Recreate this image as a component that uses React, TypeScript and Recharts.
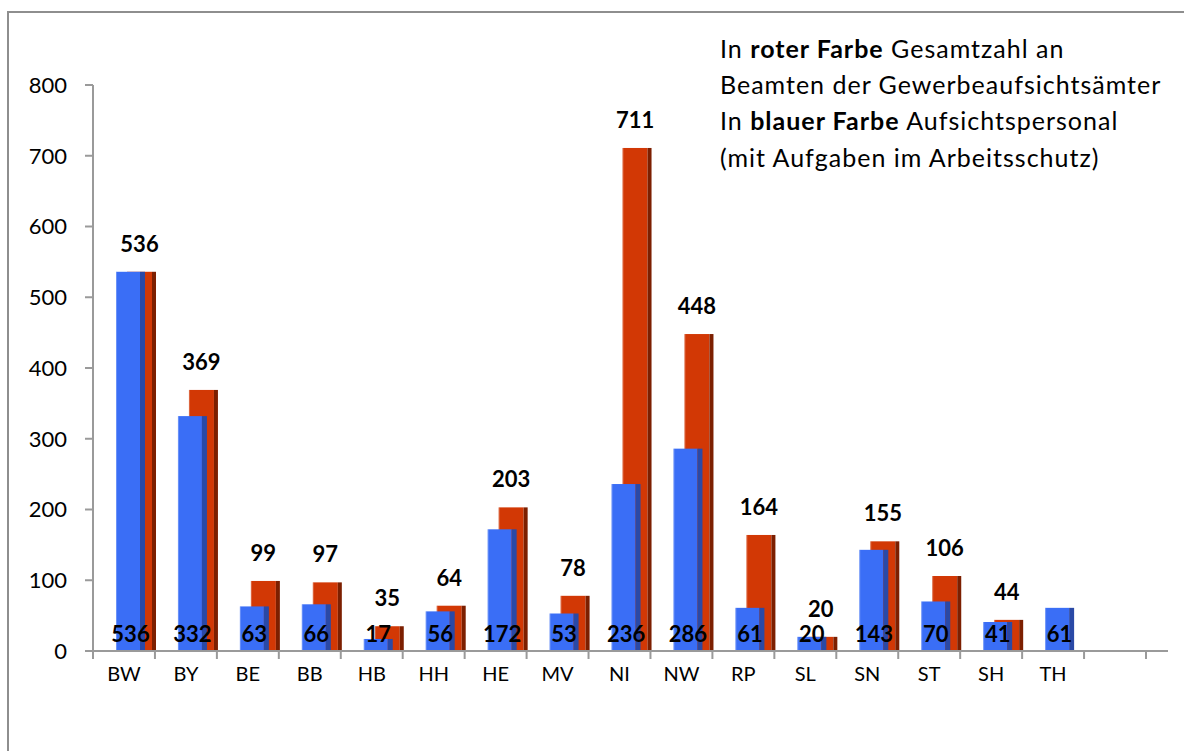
import React from "react";
import { BarChart, Bar, XAxis, YAxis, LabelList } from "recharts";

// Bundesländer (last slot is empty on the original axis)
const states = ["BW", "BY", "BE", "BB", "HB", "HH", "HE", "MV", "NI", "NW", "RP", "SL", "SN", "ST", "SH", "TH", ""];
// red: Gesamtzahl an Beamten der Gewerbeaufsichtsämter
const totalOfficials = [536, 369, 99, 97, 35, 64, 203, 78, 711, 448, 164, 20, 155, 106, 44, null, null];
// blue: Aufsichtspersonal mit Aufgaben im Arbeitsschutz
const inspectors = [536, 332, 63, 66, 17, 56, 172, 53, 236, 286, 61, 20, 143, 70, 41, 61, null];
const yTicks = [0, 100, 200, 300, 400, 500, 600, 700, 800];

const data = states.map((state, i) => ({
  state,
  total: totalOfficials[i],
  staff: inspectors[i],
}));

const FONT = "Lato, 'Open Sans', sans-serif";
const AXIS_GREY = "#9a9a9a";
const SHIFT = 12; // pushes the overlapped pair to the right of the slot
const BAND = (1146 - 93) / states.length;

const RED = "#d23805";
const RED_SIDE = "#7c1f00";
const BLUE = "#3a6ef6";
const BLUE_SIDE = "#2a49a6";

// flat "3D" column: front face + darker right side
const columnShape = (face: string, side: string, sideW: number) => (props: any) => {
  const { x, y, width, height } = props;
  if (height == null || height <= 0) return null;
  const bx = x + SHIFT;
  return (
    <g>
      <rect x={bx} y={y} width={width - sideW} height={height} fill={face} />
      <rect x={bx + width - sideW} y={y} width={sideW} height={height} fill={side} />
      <rect x={bx} y={y} width={1} height={height} fill="#ffffff" fillOpacity={0.25} />
    </g>
  );
};

const boxOf = (props: any) => {
  const vb = props.viewBox || {};
  return {
    x: vb.x ?? props.x,
    y: vb.y ?? props.y,
    width: vb.width ?? props.width,
    height: vb.height ?? props.height,
  };
};

const TotalLabel = (props: any) => {
  const { value } = props;
  if (value == null) return null;
  const { x, y, width } = boxOf(props);
  return (
    <text
      x={x + SHIFT + width / 2 - 2}
      y={y - 20}
      textAnchor="middle"
      fontFamily={FONT}
      fontWeight="bold"
      fontSize={22}
      fill="#000"
    >
      {value}
    </text>
  );
};

const StaffLabel = (props: any) => {
  const { value } = props;
  if (value == null) return null;
  const { x, y, width, height } = boxOf(props);
  return (
    <text
      x={x + SHIFT + width / 2}
      y={y + height - 9}
      textAnchor="middle"
      fontFamily={FONT}
      fontWeight="bold"
      fontSize={22}
      fill="#000"
    >
      {value}
    </text>
  );
};

// category label in the middle, tick marks on the slot borders
const StateTick = (props: any) => {
  const { x, y, payload, index } = props;
  const axisY = y - 16;
  return (
    <g>
      {index === 0 && (
        <line x1={x - BAND / 2} y1={axisY} x2={x - BAND / 2} y2={axisY + 8} stroke={AXIS_GREY} strokeWidth={2} />
      )}
      <line x1={x + BAND / 2} y1={axisY} x2={x + BAND / 2} y2={axisY + 8} stroke={AXIS_GREY} strokeWidth={2} />
      <text x={x} y={y} dy="0.71em" textAnchor="middle" fontFamily={FONT} fontSize={20} fill="#000">
        {payload.value}
      </text>
    </g>
  );
};

export default function App() {
  return (
    <div
      style={{
        position: "absolute",
        left: 0,
        top: 0,
        width: 1184,
        height: 751,
        overflow: "hidden",
        background: "#fff",
      }}
    >
      <div
        style={{
          position: "absolute",
          left: 7,
          top: 11,
          width: 1400,
          height: 1000,
          borderLeft: "2px solid #8e8e8e",
          borderTop: "2px solid #8e8e8e",
        }}
      />
      <div style={{ position: "absolute", left: 0, top: 0 }}>
        <BarChart
          width={1184}
          height={751}
          data={data}
          margin={{ top: 85, right: 16, bottom: 70, left: 0 }}
          barSize={29}
          barGap={-40}
        >
          <XAxis
            dataKey="state"
            interval={0}
            height={30}
            tickSize={8}
            tickMargin={8}
            tickLine={false}
            axisLine={{ stroke: AXIS_GREY, strokeWidth: 2 }}
            padding={{ left: 0, right: 22 }}
            tick={<StateTick />}
          />
          <YAxis
            domain={[0, 800]}
            ticks={yTicks}
            interval={0}
            width={93}
            tickSize={8}
            tickMargin={18}
            axisLine={{ stroke: AXIS_GREY, strokeWidth: 2 }}
            tickLine={{ stroke: AXIS_GREY, strokeWidth: 2 }}
            tick={{ fill: "#000", fontSize: 22, fontFamily: FONT }}
          />
          <Bar dataKey="total" isAnimationActive={false} shape={columnShape(RED, RED_SIDE, 4)}>
            <LabelList dataKey="total" content={<TotalLabel />} />
          </Bar>
          <Bar dataKey="staff" isAnimationActive={false} shape={columnShape(BLUE, BLUE_SIDE, 5)}>
            <LabelList dataKey="staff" content={<StaffLabel />} />
          </Bar>
        </BarChart>
      </div>
      <svg
        width={1184}
        height={751}
        style={{ position: "absolute", left: 0, top: 0, pointerEvents: "none" }}
      >
        <g fontFamily={FONT} fontSize={25} letterSpacing={1} fill="#000">
          <text x={720} y={58}>
            In <tspan fontWeight="bold">roter Farbe</tspan> Gesamtzahl an
          </text>
          <text x={720} y={94}>Beamten der Gewerbeaufsichtsämter</text>
          <text x={720} y={130}>
            In <tspan fontWeight="bold">blauer Farbe</tspan> Aufsichtspersonal
          </text>
          <text x={720} y={167}>(mit Aufgaben im Arbeitsschutz)</text>
        </g>
      </svg>
    </div>
  );
}
